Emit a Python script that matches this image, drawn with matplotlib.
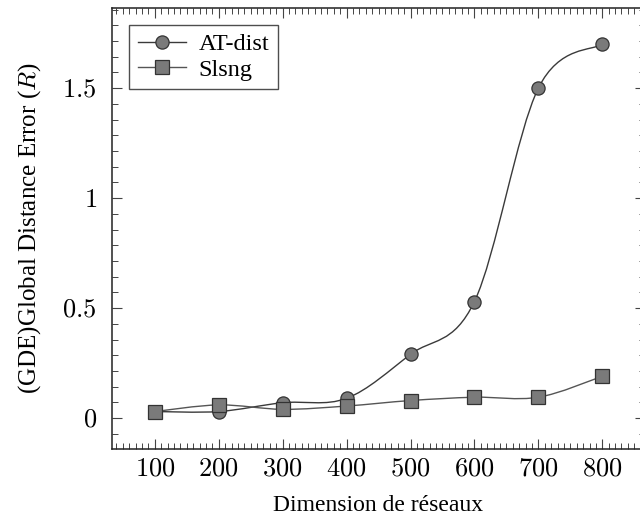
import numpy as np
import matplotlib.pyplot as plt
from matplotlib.path import Path
from matplotlib.patches import PathPatch
from matplotlib.lines import Line2D
from matplotlib.ticker import AutoMinorLocator, FuncFormatter

plt.rcParams['font.family'] = ['Liberation Serif', 'DejaVu Serif']
plt.rcParams['mathtext.fontset'] = 'cm'

# Données
dimensions = [100, 200, 300, 400, 500, 600, 700, 800]
at_dist = [0.03, 0.03, 0.07, 0.09, 0.29, 0.53, 1.50, 1.70]
slsng = [0.03, 0.06, 0.04, 0.055, 0.08, 0.095, 0.095, 0.19]


def smooth_path(xs, ys, k=1.0 / 6):
    """Chemin de Bézier passant par les points (style 'smooth' de pgfplots)"""
    pts = np.column_stack([xs, ys]).astype(float)
    n = len(pts)
    verts = [pts[0]]
    codes = [Path.MOVETO]
    for i in range(n - 1):
        p0 = pts[max(i - 1, 0)]
        p1 = pts[i]
        p2 = pts[i + 1]
        p3 = pts[min(i + 2, n - 1)]
        c1 = p1 + (p2 - p0) * k
        c2 = p2 - (p3 - p1) * k
        verts += [c1, c2, p2]
        codes += [Path.CURVE4] * 3
    return Path(verts, codes)


fig = plt.figure(figsize=(6.4, 5.19), dpi=100)
ax = fig.add_axes([0.175, 0.135, 0.833, 0.85])

series = [
    (at_dist, 'AT-dist', 'o', '#3a3a3a'),
    (slsng, 'Slsng', 's', '#555555'),
]
handles = []
for values, label, marker, lc in series:
    ax.add_patch(PathPatch(smooth_path(dimensions, values), facecolor='none',
                           edgecolor=lc, linewidth=1.0, zorder=3))
    ax.plot(dimensions, values, linestyle='none', marker=marker, markersize=9.5,
            markerfacecolor='#7a7a7a', markeredgecolor='#333333',
            markeredgewidth=0.9, zorder=4)
    handles.append(Line2D([], [], color=lc, linewidth=1.0, marker=marker,
                          markersize=9.5, markerfacecolor='#7a7a7a',
                          markeredgecolor='#333333', markeredgewidth=0.9))

ax.set_xlim(33, 867)
ax.set_ylim(-0.14, 1.865)
ax.set_xticks(dimensions)
ax.set_yticks([0, 0.5, 1, 1.5])
ax.xaxis.set_minor_locator(AutoMinorLocator(10))
ax.yaxis.set_minor_locator(AutoMinorLocator(7))
fmt = FuncFormatter(lambda v, pos: f'${v:g}$')
ax.xaxis.set_major_formatter(fmt)
ax.yaxis.set_major_formatter(fmt)

ax.tick_params(which='both', direction='in', top=True, right=True,
               color='#444444', labelsize=19)
ax.tick_params(axis='y', which='both', pad=11)
ax.tick_params(axis='x', which='both', pad=7)
ax.tick_params(which='major', length=7.5, width=0.8)
ax.tick_params(which='minor', length=4.5, width=0.7)
for s in ax.spines.values():
    s.set_linewidth(1.1)
    s.set_color('#222222')

ax.set_xlabel('Dimension de réseaux', fontsize=17, labelpad=10)
ax.set_ylabel('(GDE)Global Distance Error ($R$)', fontsize=18, labelpad=14)

leg = ax.legend(handles, ['AT-dist', 'Slsng'], loc='upper left', fontsize=17.5,
                frameon=True, fancybox=False, edgecolor='#222222',
                handlelength=2.0, handletextpad=0.5, borderaxespad=0.7,
                labelspacing=0.15, borderpad=0.35)
leg.get_frame().set_linewidth(1.0)

plt.savefig('out.png', dpi=100)
